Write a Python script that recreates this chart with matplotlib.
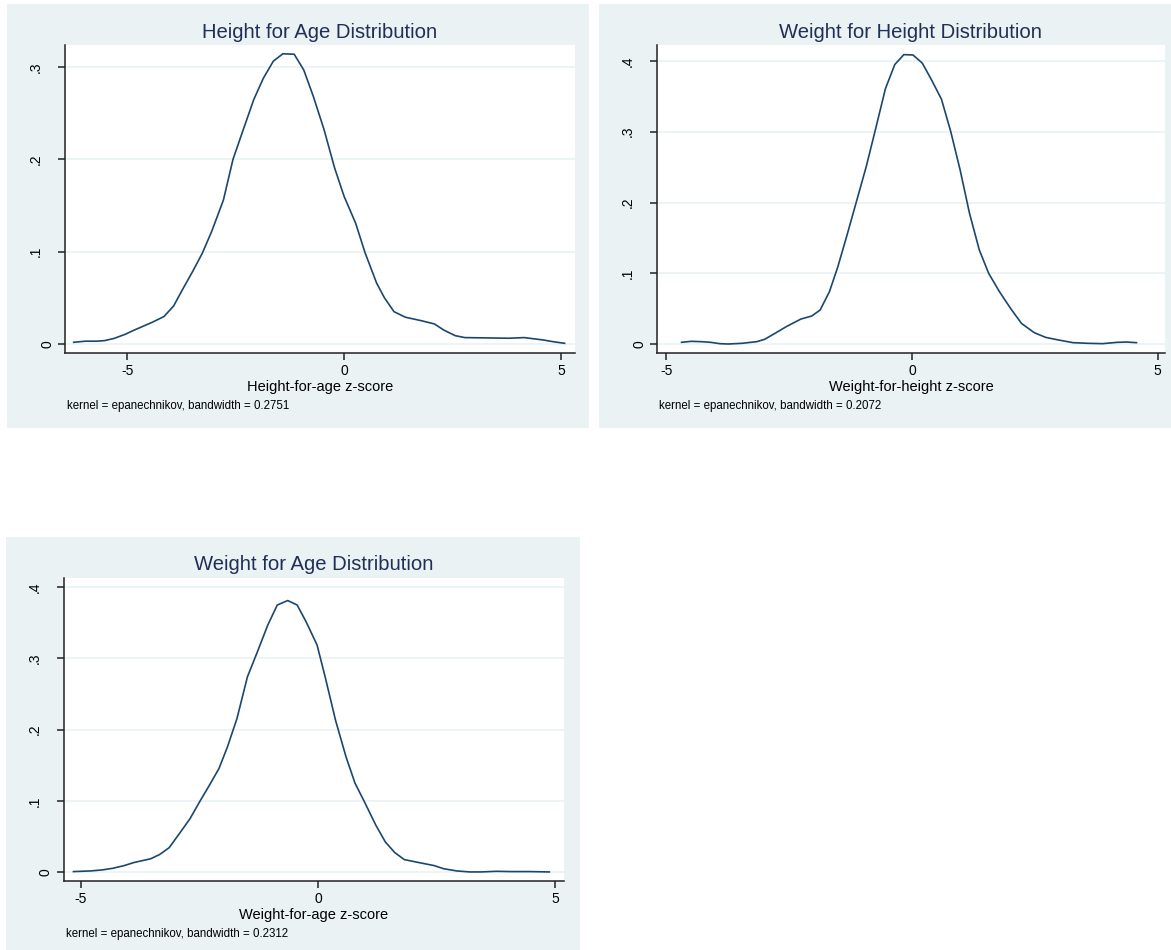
import numpy as np
import matplotlib
matplotlib.use("Agg")
import matplotlib.pyplot as plt
from matplotlib.patches import Rectangle
from matplotlib.transforms import offset_copy, blended_transform_factory

plt.rcParams['font.family'] = ['Liberation Sans', 'DejaVu Sans']

# kernel density estimates
haz_x = [-6.23, -5.96, -5.70, -5.52, -5.30, -5.04, -4.86, -4.42, -4.15, -3.93, -3.71, -3.49,
         -3.27, -3.05, -2.78, -2.56, -2.34, -2.08, -1.86, -1.63, -1.41, -1.15, -0.93, -0.71,
         -0.46, -0.22, 0.0, 0.265, 0.486, 0.75, 0.93, 1.15, 1.41, 1.77, 2.08, 2.30, 2.56,
         2.78, 3.36, 3.80, 4.15, 4.59, 4.81, 5.08]
haz_y = [0.0018, 0.003, 0.003, 0.0036, 0.006, 0.0105, 0.0145, 0.0235, 0.0297, 0.041, 0.060,
         0.0785, 0.098, 0.122, 0.156, 0.200, 0.230, 0.265, 0.288, 0.3065, 0.3145, 0.314, 0.297,
         0.2685, 0.232, 0.191, 0.160, 0.131, 0.0985, 0.0659, 0.050, 0.035, 0.029, 0.0253,
         0.0217, 0.015, 0.009, 0.0069, 0.0065, 0.0062, 0.0069, 0.0043, 0.0025, 0.0007]

whz_x = [-4.69, -4.49, -4.28, -4.10, -3.91, -3.74, -3.46, -3.16, -3.00, -2.79, -2.56, -2.26,
         -2.04, -1.87, -1.68, -1.51, -1.33, -1.14, -0.93, -0.73, -0.54, -0.35, -0.165, 0.02,
         0.21, 0.40, 0.60, 0.79, 0.98, 1.17, 1.37, 1.56, 1.78, 2.01, 2.23, 2.49, 2.72, 2.98,
         3.28, 3.58, 3.88, 4.18, 4.37, 4.57]
whz_y = [0.0024, 0.0038, 0.0033, 0.0024, 0.0005, 0.0, 0.001, 0.0033, 0.0066, 0.015, 0.0245,
         0.0353, 0.0396, 0.048, 0.074, 0.109, 0.152, 0.199, 0.251, 0.307, 0.361, 0.395, 0.409,
         0.4085, 0.397, 0.373, 0.346, 0.300, 0.246, 0.185, 0.133, 0.100, 0.074, 0.050, 0.029,
         0.016, 0.0094, 0.0057, 0.0019, 0.001, 0.0005, 0.0024, 0.0028, 0.0019]

waz_x = [-5.16, -4.80, -4.56, -4.33, -4.09, -3.89, -3.53, -3.34, -3.14, -2.90, -2.70, -2.50,
         -2.31, -2.09, -1.91, -1.71, -1.49, -1.28, -1.06, -0.86, -0.64, -0.44, -0.25, -0.02,
         0.15, 0.37, 0.59, 0.78, 0.98, 1.22, 1.42, 1.62, 1.82, 2.13, 2.45, 2.65, 2.93, 3.20,
         3.44, 3.76, 4.07, 4.47, 4.88]
waz_y = [0.001, 0.0019, 0.0033, 0.0056, 0.0094, 0.0136, 0.019, 0.025, 0.0346, 0.0566, 0.0753,
         0.0987, 0.120, 0.1455, 0.176, 0.2157, 0.274, 0.309, 0.3467, 0.3747, 0.381, 0.3747,
         0.351, 0.3186, 0.274, 0.213, 0.162, 0.125, 0.0987, 0.066, 0.0426, 0.0276, 0.0178,
         0.0136, 0.0094, 0.005, 0.0019, 0.0005, 0.0005, 0.0014, 0.001, 0.001, 0.0005]

titles = ["Height for Age Distribution", "Weight for Height Distribution", "Weight for Age Distribution"]
xlabels = ["Height-for-age z-score", "Weight-for-height z-score", "Weight-for-age z-score"]
notes = ["kernel = epanechnikov, bandwidth = 0.2751",
         "kernel = epanechnikov, bandwidth = 0.2072",
         "kernel = epanechnikov, bandwidth = 0.2312"]
xticks = [-5, 0, 5]
yticks = [[0, 0.1, 0.2, 0.3], [0, 0.1, 0.2, 0.3, 0.4], [0, 0.1, 0.2, 0.3, 0.4]]

W, H = 1171, 950
BG = '#EAF2F3'
LINE = '#1A476F'
TITLE = '#1F2F57'

fig = plt.figure(figsize=(W / 100, H / 100), dpi=100)

def frac(l, t, r, b):
    # pixel box (top-down) -> figure fraction
    return [l / W, 1 - b / H, (r - l) / W, (b - t) / H]

# panel layout in pixels: background box, axes box, limits
panels = [
    dict(bg=(7, 4, 589, 428), ax=(65, 45, 575, 353), xlim=(-6.43, 5.32), ylim=(-0.0098, 0.324),
         x=haz_x, y=haz_y),
    dict(bg=(599, 4, 1171, 428), ax=(657, 45, 1165, 353), xlim=(-5.19, 5.15), ylim=(-0.0127, 0.4226),
         x=whz_x, y=whz_y),
    dict(bg=(6, 537, 580, 950), ax=(64, 578, 564, 881), xlim=(-5.36, 5.19), ylim=(-0.0122, 0.4126),
         x=waz_x, y=waz_y),
]

for i, p in enumerate(panels):
    l, t, r, b = p['bg']
    fig.add_artist(Rectangle((l / W, 1 - b / H), (r - l) / W, (b - t) / H,
                             transform=fig.transFigure, facecolor=BG, edgecolor='none', zorder=0))
    ax = fig.add_axes(frac(*p['ax']))
    ax.set_facecolor('white')
    ax.plot(p['x'], p['y'], color=LINE, lw=1.2)
    ax.set_xlim(*p['xlim'])
    ax.set_ylim(*p['ylim'])
    ax.set_xticks(xticks)
    ax.set_xticklabels([str(v) for v in xticks], fontsize=10)
    ax.set_yticks(yticks[i])
    ax.set_yticklabels([])
    for v in yticks[i]:
        lab = '0' if v == 0 else ('%.1f' % v).lstrip('0')
        off = -11 if lab == '0' else -22
        tr = offset_copy(blended_transform_factory(ax.transAxes, ax.transData), fig=fig,
                         x=off * 72 / 100, y=0, units='points')
        ax.text(0, v, lab, transform=tr, rotation=90, ha='right', va='center', fontsize=10)
    ax.yaxis.grid(True, color=BG, lw=1.2)
    ax.set_axisbelow(True)
    for s in ['top', 'right']:
        ax.spines[s].set_visible(False)
    for s in ['left', 'bottom']:
        ax.spines[s].set_color('#222222')
        ax.spines[s].set_linewidth(1.1)
    ax.tick_params(direction='out', length=5, width=1.1, color='#222222', pad=3)
    ax.set_xlabel(xlabels[i], fontsize=10.5, labelpad=1)
    al, at, ar, ab = p['ax']
    fig.text((al + ar) / 2 / W, 1 - (at - 13) / H, titles[i], ha='center', va='center',
             fontsize=14.6, color=TITLE)
    fig.text((al + 2) / W, 1 - (ab + 53) / H, notes[i], ha='left', va='center', fontsize=8.3)

fig.savefig('out.png', dpi=100, facecolor='white')
